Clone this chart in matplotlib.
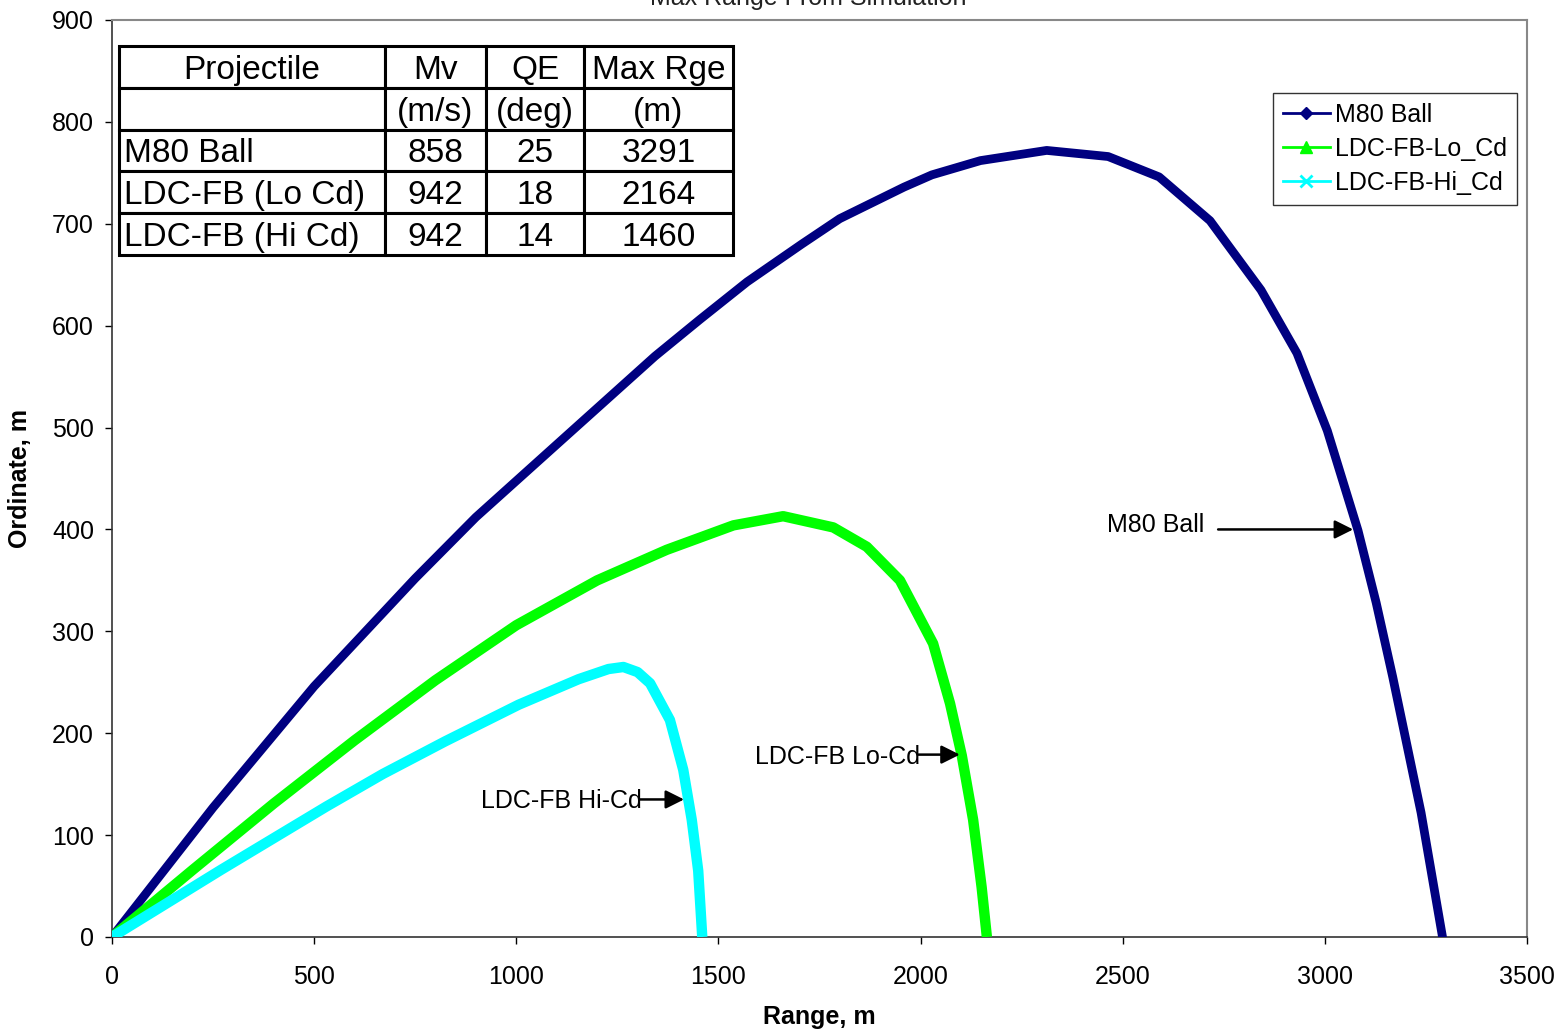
import numpy as np
import matplotlib
matplotlib.use('Agg')
from matplotlib import pyplot as plt
from matplotlib.lines import Line2D

plt.rcParams['font.family'] = ['Liberation Sans', 'DejaVu Sans']

# trajectories (range m, ordinate m)
m80_x = [0, 250, 500, 750, 900, 1113, 1343, 1454, 1571, 1706, 1800, 1959,
         2028, 2148, 2312, 2464, 2590, 2716, 2842, 2931, 3006, 3082, 3127,
         3168, 3238, 3291]
m80_y = [0, 127, 246, 352, 412, 488, 570, 606, 643, 680, 705, 736,
         748, 762, 772, 766, 746, 703, 635, 573, 497, 399, 328,
         255, 122, 0]

lo_x = [0, 200, 400, 600, 800, 1000, 1200, 1372, 1537, 1660, 1784, 1867,
        1949, 2031, 2073, 2102, 2130, 2151, 2164]
lo_y = [0, 66, 131, 193, 252, 306, 350, 380, 404, 413, 402, 383,
        350, 288, 229, 178, 115, 49, 0]

hi_x = [0, 270, 400, 530, 670, 824, 1006, 1154, 1228, 1265, 1300, 1331,
        1380, 1413, 1434, 1450, 1460]
hi_y = [0, 66, 97, 128, 160, 192, 228, 253, 263, 265, 260, 249,
        213, 164, 115, 65, 0]

series_names = ['M80 Ball', 'LDC-FB-Lo_Cd', 'LDC-FB-Hi_Cd']

# table in upper left
table_rows = [
    ['Projectile', 'Mv', 'QE', 'Max Rge'],
    ['', '(m/s)', '(deg)', '(m)'],
    ['M80 Ball', '858', '25', '3291'],
    ['LDC-FB (Lo Cd)', '942', '18', '2164'],
    ['LDC-FB (Hi Cd)', '942', '14', '1460'],
]

# arrow labels: (text, text x, text y, arrow start x, arrow end x, arrow y)
notes = [
    ('M80 Ball', 2461, 404, 2736, 3070, 400),
    ('LDC-FB Lo-Cd', 1590, 177, 1994, 2097, 179),
    ('LDC-FB Hi-Cd', 913, 133, 1306, 1415, 135),
]

navy = '#000080'
green = '#00FF00'
cyan = '#00FFFF'

fig = plt.figure(figsize=(15.56, 10.33), dpi=100)
ax = fig.add_axes([112/1556, 1-937/1033, 1415/1556, 917/1033])

ax.plot(m80_x, m80_y, color=navy, lw=6.3, solid_capstyle='round', solid_joinstyle='round', zorder=3)
ax.plot(lo_x, lo_y, color=green, lw=7.5, solid_capstyle='butt', solid_joinstyle='round', zorder=3)
ax.plot(hi_x, hi_y, color=cyan, lw=7.5, solid_capstyle='butt', solid_joinstyle='round', zorder=3)

ax.set_xlim(0, 3500)
ax.set_ylim(0, 900)
ax.set_xticks(np.arange(0, 3501, 500))
ax.set_yticks(np.arange(0, 901, 100))
ax.tick_params(direction='out', length=5, width=1, labelsize=18)
ax.tick_params(axis='x', pad=15)
ax.tick_params(axis='y', pad=8)
ax.set_xlabel('Range, m', fontsize=18, fontweight='bold', labelpad=12)
ax.set_ylabel('Ordinate, m', fontsize=18, fontweight='bold', labelpad=14)
for s in ['left', 'bottom']:
    ax.spines[s].set_color('#333333')
    ax.spines[s].set_linewidth(1.2)
for s in ['top', 'right']:
    ax.spines[s].set_color('#888888')
    ax.spines[s].set_linewidth(1.5)

fig.text(808/1556, 1-5/1033, 'Max Range From Simulation', ha='center', va='baseline',
         fontsize=18, color='#222222')

for txt, tx, ty, ax0, ax1, ay in notes:
    ax.text(tx, ty, txt, fontsize=18, va='center', ha='left', zorder=4)
    ax.annotate('', xy=(ax1, ay), xytext=(ax0, ay),
                arrowprops=dict(arrowstyle='-|>', color='black', lw=1.8,
                                mutation_scale=28, shrinkA=0, shrinkB=0), zorder=4)

handles = [
    Line2D([], [], color=navy, lw=2, marker='D', markersize=6),
    Line2D([], [], color=green, lw=2, marker='^', markersize=8),
    Line2D([], [], color=cyan, lw=2, marker='x', markersize=8, markeredgewidth=2),
]
leg = ax.legend(handles, series_names, loc='upper right',
                bbox_to_anchor=((1517-112)/1415, (937-93)/917),
                fontsize=18, frameon=True, fancybox=False, borderaxespad=0,
                handlelength=1.9, handletextpad=0.2, labelspacing=0.4,
                borderpad=0.4)
leg.get_frame().set_edgecolor('black')
leg.get_frame().set_linewidth(1)

col_w = [266, 101, 98, 149]
col_w = [w / sum(col_w) for w in col_w]
x0 = (119-112)/1415
x1 = (733-112)/1415
y1 = (937-46)/917
y0 = (937-255)/917
tab = ax.table(cellText=table_rows, colWidths=col_w, cellLoc='center',
               bbox=[x0, y0, x1-x0, y1-y0], zorder=5)
tab.auto_set_font_size(False)
for (r, c), cell in tab.get_celld().items():
    cell.set_linewidth(2.2)
    cell.set_edgecolor('black')
    cell.set_facecolor('white')
    cell.get_text().set_fontsize(24)
    cell.get_text().set_va('center_baseline')
    if c == 0 and r >= 2:
        cell.get_text().set_ha('left')
        cell._loc = 'left'
        cell.PAD = 0.02

fig.savefig('out.png', dpi=100)
